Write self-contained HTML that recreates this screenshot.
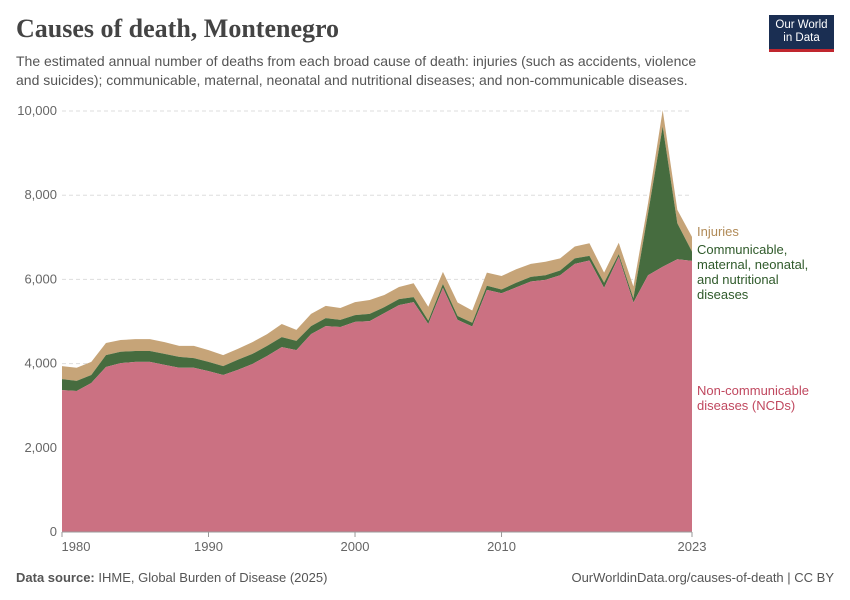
<!DOCTYPE html>
<html><head><meta charset="utf-8"><style>
body{margin:0;background:#fff;font-family:"Liberation Sans",sans-serif}
#wrap{position:relative;width:850px;height:600px;overflow:hidden}
.t{position:absolute;white-space:nowrap}
</style></head><body>
<div id="wrap">
<div class="t" style="left:16px;top:14px;font-family:'Liberation Serif',serif;font-size:26px;font-weight:bold;color:#444">Causes of death, Montenegro</div>
<div class="t" style="left:16px;top:52px;font-size:14px;color:#555;line-height:19px">The estimated annual number of deaths from each broad cause of death: injuries (such as accidents, violence<br>and suicides); communicable, maternal, neonatal and nutritional diseases; and non-communicable diseases.</div>
<div style="position:absolute;left:769px;top:15px;width:65px;height:37px;background:#1a2e52;border-bottom:3px solid #c0262e;color:#fff;font-size:11.5px;text-align:center;line-height:13px;padding-top:4px;box-sizing:border-box">Our World<br>in Data</div>
<svg id="chart" width="850" height="600" style="position:absolute;left:0;top:0"></svg>
<div class="t" style="left:16px;top:570px;font-size:13px;color:#555"><b>Data source:</b> IHME, Global Burden of Disease (2025)</div>
<div class="t" style="right:16px;top:570px;font-size:13px;color:#555">OurWorldinData.org/causes-of-death | CC BY</div>
</div>
<script>
const years=[1980,1981,1982,1983,1984,1985,1986,1987,1988,1989,1990,1991,1992,1993,1994,1995,1996,1997,1998,1999,2000,2001,2002,2003,2004,2005,2006,2007,2008,2009,2010,2011,2012,2013,2014,2015,2016,2017,2018,2019,2020,2021,2022,2023];
const ncd=[3370,3350,3540,3920,4010,4040,4040,3970,3900,3900,3820,3730,3850,3990,4180,4390,4320,4700,4890,4870,4990,5010,5200,5390,5460,4940,5800,5040,4880,5750,5670,5810,5950,5990,6100,6370,6450,5800,6540,5450,6100,6300,6480,6440];
const communicable=[260,240,190,280,270,260,260,260,260,230,220,210,240,240,240,240,220,190,190,170,160,170,140,140,120,80,90,90,90,100,90,110,110,110,110,130,110,120,60,100,1470,3330,850,220];
const injuries=[310,310,310,290,280,280,280,280,260,290,280,260,260,280,280,310,260,290,290,280,310,330,290,290,330,330,290,320,290,310,320,320,310,320,290,280,300,240,270,280,240,390,320,350];
const yTicks=[0,2000,4000,6000,8000,10000];
const xTicks=[1980,1990,2000,2010,2023];
const NS='http://www.w3.org/2000/svg',svg=document.getElementById('chart');
const x0=62,x1=692,yb=532,yt=111;
const X=y=>x0+(y-1980)/(2023-1980)*(x1-x0);
const Y=v=>yb-v/10000*(yb-yt);
function mk(t,a){const e=document.createElementNS(NS,t);for(const k in a)e.setAttribute(k,a[k]);svg.appendChild(e);return e;}
yTicks.forEach(v=>{
 const l=mk('line',{x1:x0,x2:x1,y1:Y(v),y2:Y(v),stroke:'#ddd','stroke-dasharray':v?'4,3':'none'});
 
 
 const t=mk('text',{x:57,y:Y(v)+4,'text-anchor':'end','font-size':13,fill:'#666','font-family':'Liberation Sans'});
 t.textContent=v.toLocaleString('en-US');
 
 
});
const s1=ncd, s2=ncd.map((v,i)=>v+communicable[i]), s3=s2.map((v,i)=>v+injuries[i]);
function area(top,bot,fill,name){
 let d='M'+years.map((y,i)=>X(y)+','+Y(top[i])).join('L');
 for(let i=years.length-1;i>=0;i--)d+='L'+X(years[i])+','+Y(bot?bot[i]:0);
 const p=mk('path',{d:d+'Z',fill:fill});
 
 
}
area(s3,s2,'#c6a478','area-injuries');
area(s2,s1,'#466c3f','area-communicable');
area(s1,null,'#cb7182','area-ncd');
const ax=mk('line',{x1:x0,x2:x1,y1:yb,y2:yb,stroke:'#999'});


xTicks.forEach(y=>{
 const tk=mk('line',{x1:X(y),x2:X(y),y1:yb,y2:yb+5,stroke:'#999'});
 
 
 const t=mk('text',{x:y==1980?X(y)+14:X(y),y:yb+19,'text-anchor':'middle','font-size':13,fill:'#666','font-family':'Liberation Sans'});
 t.textContent=y;
 
 
});
function lab(lines,y,col,name){lines.forEach((s,i)=>{const t=mk('text',{x:697,y:y+i*15,'font-size':13,fill:col,'font-family':'Liberation Sans'});t.textContent=s;
 
 });}
lab(['Injuries'],236,'#b08a57','legend-injuries');
lab(['Communicable,','maternal, neonatal,','and nutritional','diseases'],254,'#2f5a2a','legend-communicable');
lab(['Non-communicable','diseases (NCDs)'],395,'#c0485f','legend-ncd');
</script>
</body></html>
